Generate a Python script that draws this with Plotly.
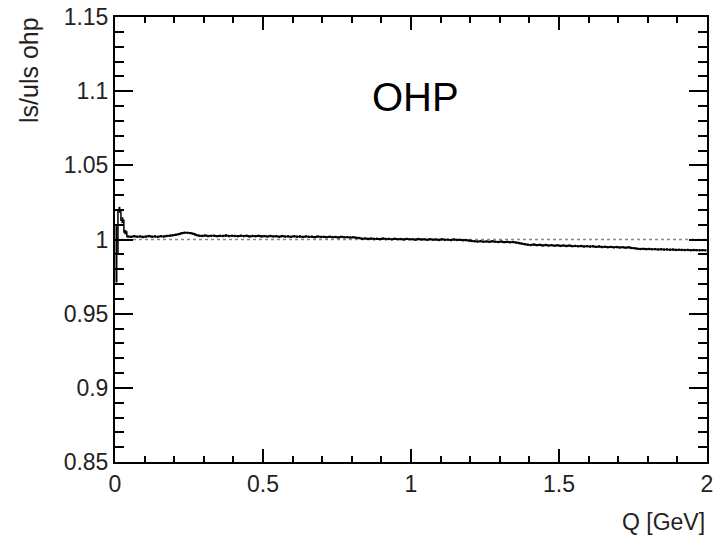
import plotly.graph_objects as go

# ---- data -------------------------------------------------------------
bin_width = 0.01
n_bins = 200
q_centers = [round(bin_width * (i + 0.5), 4) for i in range(n_bins)]

ratio = [
    0.9900, 1.0200, 1.0130, 1.0050, 1.0020, 1.0018, 1.0022, 1.0019, 1.0021, 1.0017, 1.0020, 1.0023, 1.0019, 1.0021, 1.0018, 1.0022, 1.0020, 1.0024, 1.0026, 1.0028,
    1.0032, 1.0036, 1.0042, 1.0046, 1.0045, 1.0043, 1.0038, 1.0030, 1.0026, 1.0024, 1.0027, 1.0023, 1.0025, 1.0026, 1.0022, 1.0025, 1.0024, 1.0027, 1.0023, 1.0025,
    1.0024, 1.0022, 1.0026, 1.0023, 1.0025, 1.0021, 1.0024, 1.0022, 1.0025, 1.0021, 1.0023, 1.0020, 1.0024, 1.0021, 1.0022, 1.0019, 1.0023, 1.0020, 1.0021, 1.0018,
    1.0022, 1.0019, 1.0020, 1.0017, 1.0021, 1.0018, 1.0019, 1.0016, 1.0020, 1.0017, 1.0018, 1.0015, 1.0019, 1.0016, 1.0017, 1.0014, 1.0018, 1.0015, 1.0016, 1.0013,
    1.0015, 1.0012, 1.0010, 1.0005, 1.0007, 1.0004, 1.0006, 1.0003, 1.0005, 1.0002, 1.0006, 1.0003, 1.0004, 1.0001, 1.0005, 1.0002, 1.0003, 1.0000, 1.0004, 1.0001,
    1.0002, 0.9999, 1.0003, 1.0000, 1.0001, 0.9998, 1.0002, 0.9999, 1.0000, 0.9997, 1.0001, 0.9998, 0.9999, 0.9996, 1.0000, 0.9997, 0.9998, 0.9995, 0.9996, 0.9993,
    0.9990, 0.9988, 0.9986, 0.9989, 0.9985, 0.9987, 0.9984, 0.9988, 0.9985, 0.9983, 0.9986, 0.9982, 0.9984, 0.9981, 0.9983, 0.9979, 0.9976, 0.9972, 0.9968, 0.9965,
    0.9963, 0.9966, 0.9962, 0.9964, 0.9960, 0.9963, 0.9959, 0.9962, 0.9958, 0.9961, 0.9957, 0.9960, 0.9956, 0.9959, 0.9955, 0.9957, 0.9954, 0.9956, 0.9953, 0.9955,
    0.9952, 0.9954, 0.9950, 0.9953, 0.9949, 0.9951, 0.9948, 0.9950, 0.9947, 0.9949, 0.9946, 0.9948, 0.9945, 0.9947, 0.9943, 0.9941, 0.9938, 0.9936, 0.9937, 0.9935,
    0.9936, 0.9934, 0.9935, 0.9933, 0.9934, 0.9932, 0.9933, 0.9931, 0.9932, 0.9930, 0.9931, 0.9930, 0.9929, 0.9930, 0.9928, 0.9929, 0.9928, 0.9927, 0.9928, 0.9927,
]

low_q_errors = [0.019, 0.002, 0.002, 0.0015]
typical_error = 0.0008
ratio_err = low_q_errors + [typical_error] * (n_bins - len(low_q_errors))

x_ticks = [0, 0.5, 1, 1.5, 2]
x_tick_text = ["0", "0.5", "1", "1.5", "2"]
y_ticks = [0.85, 0.9, 0.95, 1.0, 1.05, 1.1, 1.15]
y_tick_text = ["0.85", "0.9", "0.95", "1", "1.05", "1.1", "1.15"]
reference_level = 1.0

# ---- figure -----------------------------------------------------------
FONT = "Liberation Sans, Arial, Helvetica, sans-serif"
TEXT_COLOR = "#222222"

fig = go.Figure()
fig.add_trace(go.Scatter(
    x=q_centers, y=ratio, mode="lines",
    line=dict(color="black", width=1.5, shape="hvh"),
    error_y=dict(type="data", array=ratio_err, visible=True,
                 color="black", thickness=2, width=0),
    showlegend=False, hoverinfo="x+y",
))

fig.add_shape(type="line", xref="x", yref="y", x0=0, x1=2,
              y0=reference_level, y1=reference_level,
              line=dict(color="#888888", width=1.5, dash="dot"), layer="below")

axis_common = dict(
    showgrid=False, zeroline=False, showline=True, linecolor="black",
    linewidth=2, mirror="allticks", ticks="inside", tickcolor="black",
    tickwidth=2, automargin=False, ticklabeloverflow="allow",
    tickfont=dict(family=FONT, size=23, color=TEXT_COLOR),
)

fig.update_xaxes(range=[0, 2], tickvals=x_ticks, ticktext=x_tick_text,
                 ticklen=13,
                 minor=dict(ticks="inside", dtick=0.1, ticklen=6,
                            tickcolor="black", tickwidth=2, showgrid=False),
                 **axis_common)
fig.update_yaxes(range=[0.85, 1.15], tickvals=y_ticks, ticktext=y_tick_text,
                 ticklen=18,
                 minor=dict(ticks="inside", dtick=0.01, ticklen=9,
                            tickcolor="black", tickwidth=2, showgrid=False),
                 **axis_common)

fig.add_annotation(text="OHP", x=0.507, y=0.82, xref="paper", yref="paper",
                   showarrow=False, font=dict(family=FONT, size=40, color="black"),
                   xanchor="center", yanchor="middle")
fig.add_annotation(text="Q [GeV]", x=1.0, y=-0.135, xref="paper", yref="paper",
                   showarrow=False, font=dict(family=FONT, size=23, color=TEXT_COLOR),
                   xanchor="right", yanchor="middle")
fig.add_annotation(text="ls/uls ohp", x=-0.145, y=1.005, xref="paper", yref="paper",
                   showarrow=False, textangle=-90,
                   font=dict(family=FONT, size=25, color=TEXT_COLOR),
                   xanchor="center", yanchor="top")

fig.update_layout(
    width=713, height=539,
    margin=dict(l=115, r=6, t=17, b=77),
    paper_bgcolor="white", plot_bgcolor="white",
)

fig.write_html("out.html")
